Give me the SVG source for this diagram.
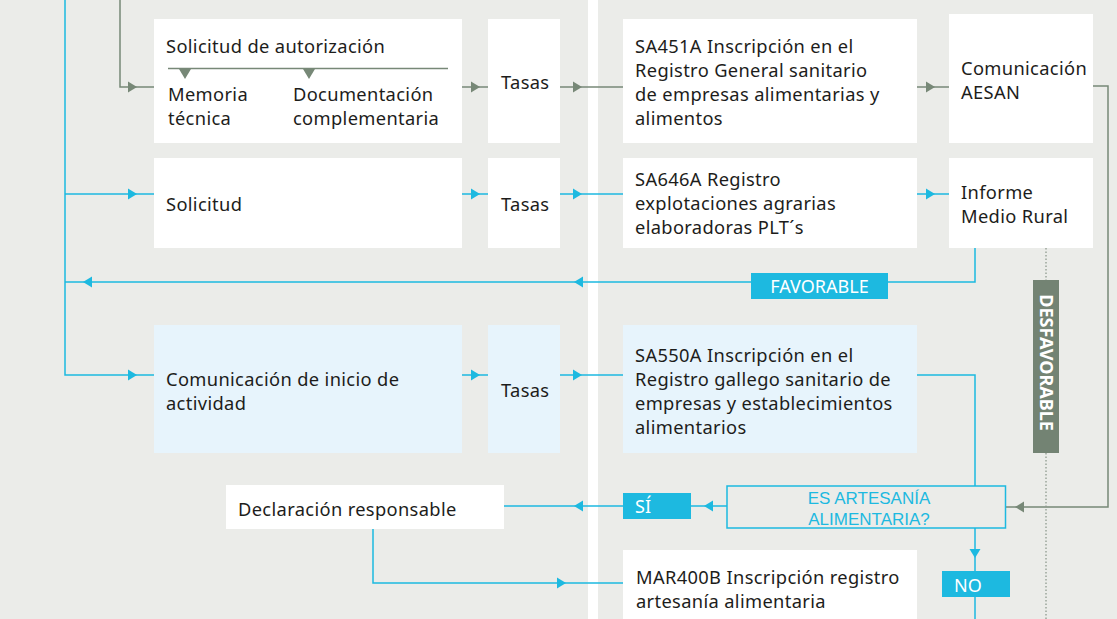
<svg xmlns="http://www.w3.org/2000/svg" xmlns:xlink="http://www.w3.org/1999/xlink" width="1117" height="619" viewBox="0 0 1117 619">
<style>
.panel{fill:#EBECE9}
.box{fill:#FFFFFF}
.lbox{fill:#E7F4FC}
.t{font-family:"Noto Sans","Open Sans",sans-serif;font-size:18.3px;letter-spacing:0.35px;fill:#1D1D1B}
.lab{font-family:"Noto Sans","Open Sans",sans-serif;font-size:18px;fill:#FFFFFF}
.q{font-family:"Liberation Sans",Arial,sans-serif;font-size:17px;fill:#1DB9E0}
.g{fill:none;stroke:#778877;stroke-width:1.5}
.b{fill:none;stroke:#1DB9E0;stroke-width:1.5}
.ga{fill:#778877}
.ba{fill:#1DB9E0}
.dot{fill:none;stroke:#8E9A8E;stroke-width:1.3;stroke-dasharray:1.5 2}
.bl{fill:#1DB9E0}
</style>
<defs>
<path id="ar" d="M0 0 L-9 -5.5 L-9 5.5 Z"/>
<path id="dn" d="M0 0 L-6 -10 L6 -10 Z"/>
</defs>
<rect x="0" y="0" width="1117" height="619" fill="#FFFFFF"/>
<rect class="panel" x="0" y="0" width="588" height="619"/>
<rect class="panel" x="598" y="0" width="519" height="619"/>

<g id="connectors">
<path class="g" d="M120 0 V87 H154"/>
<path class="g" d="M462 87 H488"/>
<path class="g" d="M560 87 H623"/>
<path class="g" d="M917 87 H949"/>
<path class="g" d="M1093 86 H1108 V507 H1005"/>
<path class="dot" d="M1046 248 V280"/>
<path class="dot" d="M1046 453 V619"/>
<path class="b" d="M65 0 V375 H154"/>
<path class="b" d="M65 194 H154"/>
<path class="b" d="M462 194 H488"/>
<path class="b" d="M560 194 H623"/>
<path class="b" d="M917 194 H949"/>
<path class="b" d="M975 248 V282 H65"/>
<path class="b" d="M462 375 H488"/>
<path class="b" d="M560 375 H623"/>
<path class="b" d="M917 375 H975 V486"/>
<path class="b" d="M727 506 H503"/>
<path class="b" d="M975 528 V619"/>
<path class="b" d="M373 529 V583 H623"/>
<g class="ga">
<use xlink:href="#ar" transform="translate(137,87)"/>
<use xlink:href="#ar" transform="translate(480,87)"/>
<use xlink:href="#ar" transform="translate(582,87)"/>
<use xlink:href="#ar" transform="translate(935,87)"/>
<use xlink:href="#ar" transform="translate(1015,507) rotate(180)"/>
</g>
<g class="ba">
<use xlink:href="#ar" transform="translate(137,194)"/>
<use xlink:href="#ar" transform="translate(480,194)"/>
<use xlink:href="#ar" transform="translate(582,194)"/>
<use xlink:href="#ar" transform="translate(935,194)"/>
<use xlink:href="#ar" transform="translate(574,282) rotate(180)"/>
<use xlink:href="#ar" transform="translate(83,282) rotate(180)"/>
<use xlink:href="#ar" transform="translate(137,375)"/>
<use xlink:href="#ar" transform="translate(480,375)"/>
<use xlink:href="#ar" transform="translate(582,375)"/>
<use xlink:href="#ar" transform="translate(704,506) rotate(180)"/>
<use xlink:href="#ar" transform="translate(574,506) rotate(180)"/>
<use xlink:href="#ar" transform="translate(975,558) rotate(90)"/>
<use xlink:href="#ar" transform="translate(566,583)"/>
</g>
</g>

<g id="solicitud-autorizacion">
<rect class="box" x="154" y="19" width="308" height="124"/>
<text class="t" x="166" y="53">Solicitud de autorización</text>
<path class="g" d="M168 68.5 H448"/>
<use class="ga" xlink:href="#dn" transform="translate(185,79)"/>
<use class="ga" xlink:href="#dn" transform="translate(309,79)"/>
<text class="t" x="168" y="101">Memoria<tspan x="168" dy="24">técnica</tspan></text>
<text class="t" x="293" y="101">Documentación<tspan x="293" dy="24">complementaria</tspan></text>
</g>
<g id="tasas1">
<rect class="box" x="488" y="19" width="72" height="124"/>
<text class="t" x="501" y="89">Tasas</text>
</g>
<g id="sa451a">
<rect class="box" x="623" y="19" width="294" height="124"/>
<text class="t" x="635" y="53">SA451A Inscripción en el<tspan x="635" dy="24">Registro General sanitario</tspan><tspan x="635" dy="24">de empresas alimentarias y</tspan><tspan x="635" dy="24">alimentos</tspan></text>
</g>
<g id="aesan">
<rect class="box" x="949" y="14" width="144" height="129"/>
<text class="t" x="961" y="74.5">Comunicación<tspan x="961" dy="24">AESAN</tspan></text>
</g>

<g id="solicitud">
<rect class="box" x="154" y="158" width="308" height="90"/>
<text class="t" x="166" y="211">Solicitud</text>
</g>
<g id="tasas2">
<rect class="box" x="488" y="158" width="72" height="90"/>
<text class="t" x="501" y="210.5">Tasas</text>
</g>
<g id="sa646a">
<rect class="box" x="623" y="158" width="294" height="90"/>
<text class="t" x="635" y="186">SA646A Registro<tspan x="635" dy="24">explotaciones agrarias</tspan><tspan x="635" dy="24">elaboradoras PLT´s</tspan></text>
</g>
<g id="informe">
<rect class="box" x="949" y="158" width="144" height="90"/>
<text class="t" x="961" y="198.5">Informe<tspan x="961" dy="24">Medio Rural</tspan></text>
</g>

<g id="favorable">
<rect class="bl" x="751" y="273" width="137" height="26"/>
<text class="lab" x="819.5" y="293" text-anchor="middle">FAVORABLE</text>
</g>
<g id="desfavorable">
<rect fill="#738373" x="1033" y="280" width="26" height="173"/>
<text font-family="'Noto Sans','Open Sans',sans-serif" font-size="18px" font-weight="bold" fill="#FFFFFF" text-anchor="middle" transform="translate(1039.5,362.5) rotate(90)">DESFAVORABLE</text>
</g>

<g id="comunicacion-inicio">
<rect class="lbox" x="154" y="325" width="308" height="128"/>
<text class="t" x="166" y="385.5">Comunicación de inicio de<tspan x="166" dy="24">actividad</tspan></text>
</g>
<g id="tasas3">
<rect class="lbox" x="488" y="325" width="72" height="128"/>
<text class="t" x="501" y="397">Tasas</text>
</g>
<g id="sa550a">
<rect class="lbox" x="623" y="325" width="294" height="128"/>
<text class="t" x="635" y="361.5">SA550A Inscripción en el<tspan x="635" dy="24">Registro gallego sanitario de</tspan><tspan x="635" dy="24">empresas y establecimientos</tspan><tspan x="635" dy="24">alimentarios</tspan></text>
</g>

<g id="es-artesania">
<rect x="727" y="486" width="278.5" height="42" fill="none" stroke="#1DB9E0" stroke-width="1.5"/>
<text class="q" text-anchor="middle" x="869" y="504">ES ARTESANÍA<tspan x="869" dy="21">ALIMENTARIA?</tspan></text>
</g>
<g id="si">
<rect class="bl" x="623" y="493" width="68" height="26"/>
<text class="lab" x="635" y="513">SÍ</text>
</g>
<g id="no">
<rect class="bl" x="942" y="571" width="68" height="26"/>
<text class="lab" x="954" y="591.5">NO</text>
</g>
<g id="declaracion">
<rect class="box" x="226" y="485" width="278" height="44"/>
<text class="t" x="238" y="515.5">Declaración responsable</text>
</g>
<g id="mar400b">
<rect class="box" x="623" y="550" width="294" height="80"/>
<text class="t" x="636" y="584">MAR400B Inscripción registro<tspan x="636" dy="24">artesanía alimentaria</tspan></text>
</g>
</svg>
